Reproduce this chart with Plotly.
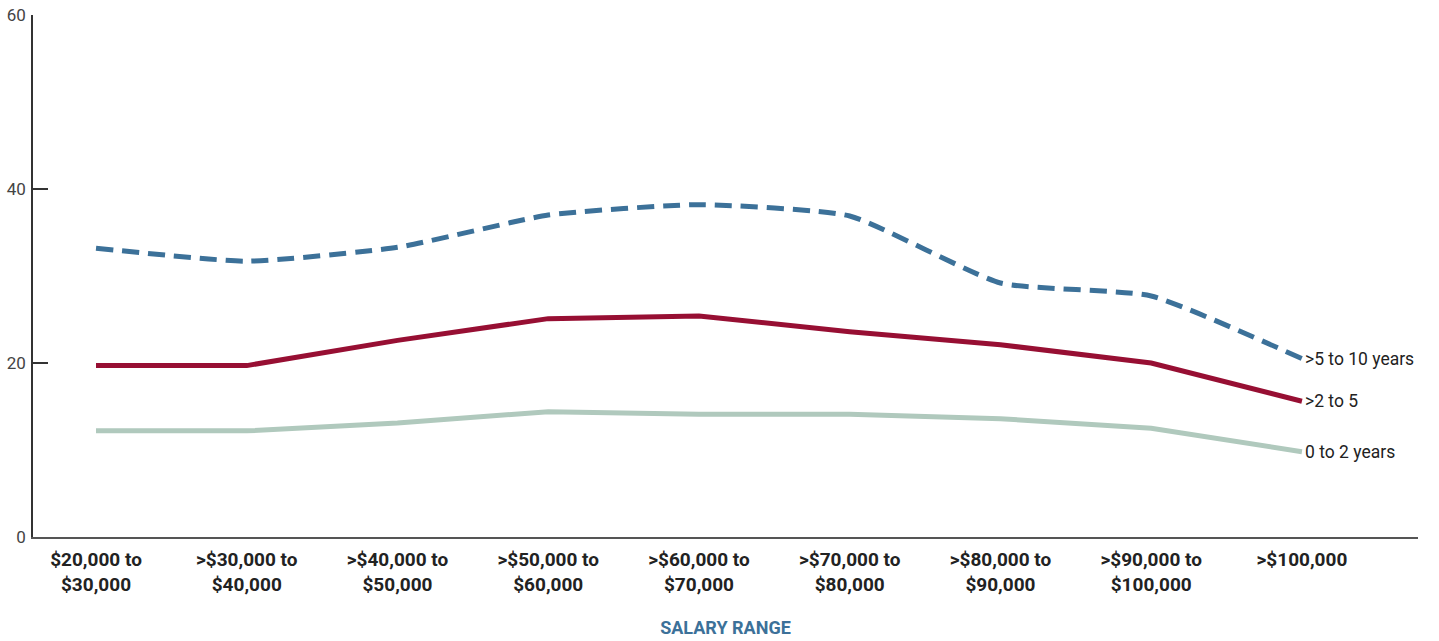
import plotly.graph_objects as go

categories = [["$20,000 to", "$30,000"], [">$30,000 to", "$40,000"], [">$40,000 to", "$50,000"],
              [">$50,000 to", "$60,000"], [">$60,000 to", "$70,000"], [">$70,000 to", "$80,000"],
              [">$80,000 to", "$90,000"], [">$90,000 to", "$100,000"], [">$100,000"]]
series_names = ["0 to 2 years", ">2 to 5", ">5 to 10 years"]
zero_to_two = [12.2, 12.2, 13.1, 14.4, 14.1, 14.1, 13.6, 12.5, 9.8]
two_to_five = [19.7, 19.7, 22.6, 25.1, 25.4, 23.6, 22.1, 20.0, 15.6]
five_to_ten = [33.2, 31.7, 33.3, 37.0, 38.2, 36.9, 29.2, 27.7, 20.5]
y_ticks = [0, 20, 40, 60]

FONT = "Roboto, Liberation Sans Narrow, sans-serif"
xs = list(range(len(categories)))
tick_text = ["<br>".join("<b>%s</b>" % part for part in c) for c in categories]

fig = go.Figure()
fig.add_trace(go.Scatter(x=xs, y=zero_to_two, mode="lines", name=series_names[0],
                         line=dict(color="#B0C9BD", width=5)))
fig.add_trace(go.Scatter(x=xs, y=two_to_five, mode="lines", name=series_names[1],
                         line=dict(color="#970F33", width=5)))
fig.add_trace(go.Scatter(x=xs, y=five_to_ten, mode="lines", name=series_names[2],
                         line=dict(color="#3C7199", width=5, dash="17px,9px", shape="spline", smoothing=0.5)))

for name, vals in zip(series_names, [zero_to_two, two_to_five, five_to_ten]):
    fig.add_annotation(x=xs[-1], y=vals[-1], text=name, showarrow=False, xanchor="left",
                       yanchor="middle", xshift=1,
                       font=dict(family=FONT, size=17.5, color="#222222"))

fig.update_layout(
    width=1439, height=641,
    margin=dict(l=33, r=21, t=15, b=104),
    plot_bgcolor="white", paper_bgcolor="white",
    showlegend=False,
    font=dict(family=FONT),
)
fig.update_xaxes(
    range=[-0.418, 8.77], tickmode="array", tickvals=xs, ticktext=tick_text,
    showgrid=False, zeroline=False, showline=True, linecolor="#555555", linewidth=2,
    ticks="", tickfont=dict(family=FONT, size=19, color="#222222"), automargin=False,
    ticklabelstandoff=4,
    title=dict(text="<b>SALARY RANGE</b>", font=dict(family=FONT, size=18, color="#3C7199"), standoff=27),
)
fig.update_yaxes(
    range=[0, 60], tickmode="array", tickvals=y_ticks,
    showgrid=False, zeroline=False, showline=True, linecolor="#333333", linewidth=1.5,
    ticks="inside", ticklen=15, tickcolor="#333333", tickwidth=1.5, automargin=False,
    ticklabeloverflow="allow",
    tickfont=dict(family=FONT, size=17, color="#444444"), ticklabelstandoff=2,
)
fig.write_html("out.html", config={"displayModeBar": False},
               post_script="document.body.style.margin='0px';")
